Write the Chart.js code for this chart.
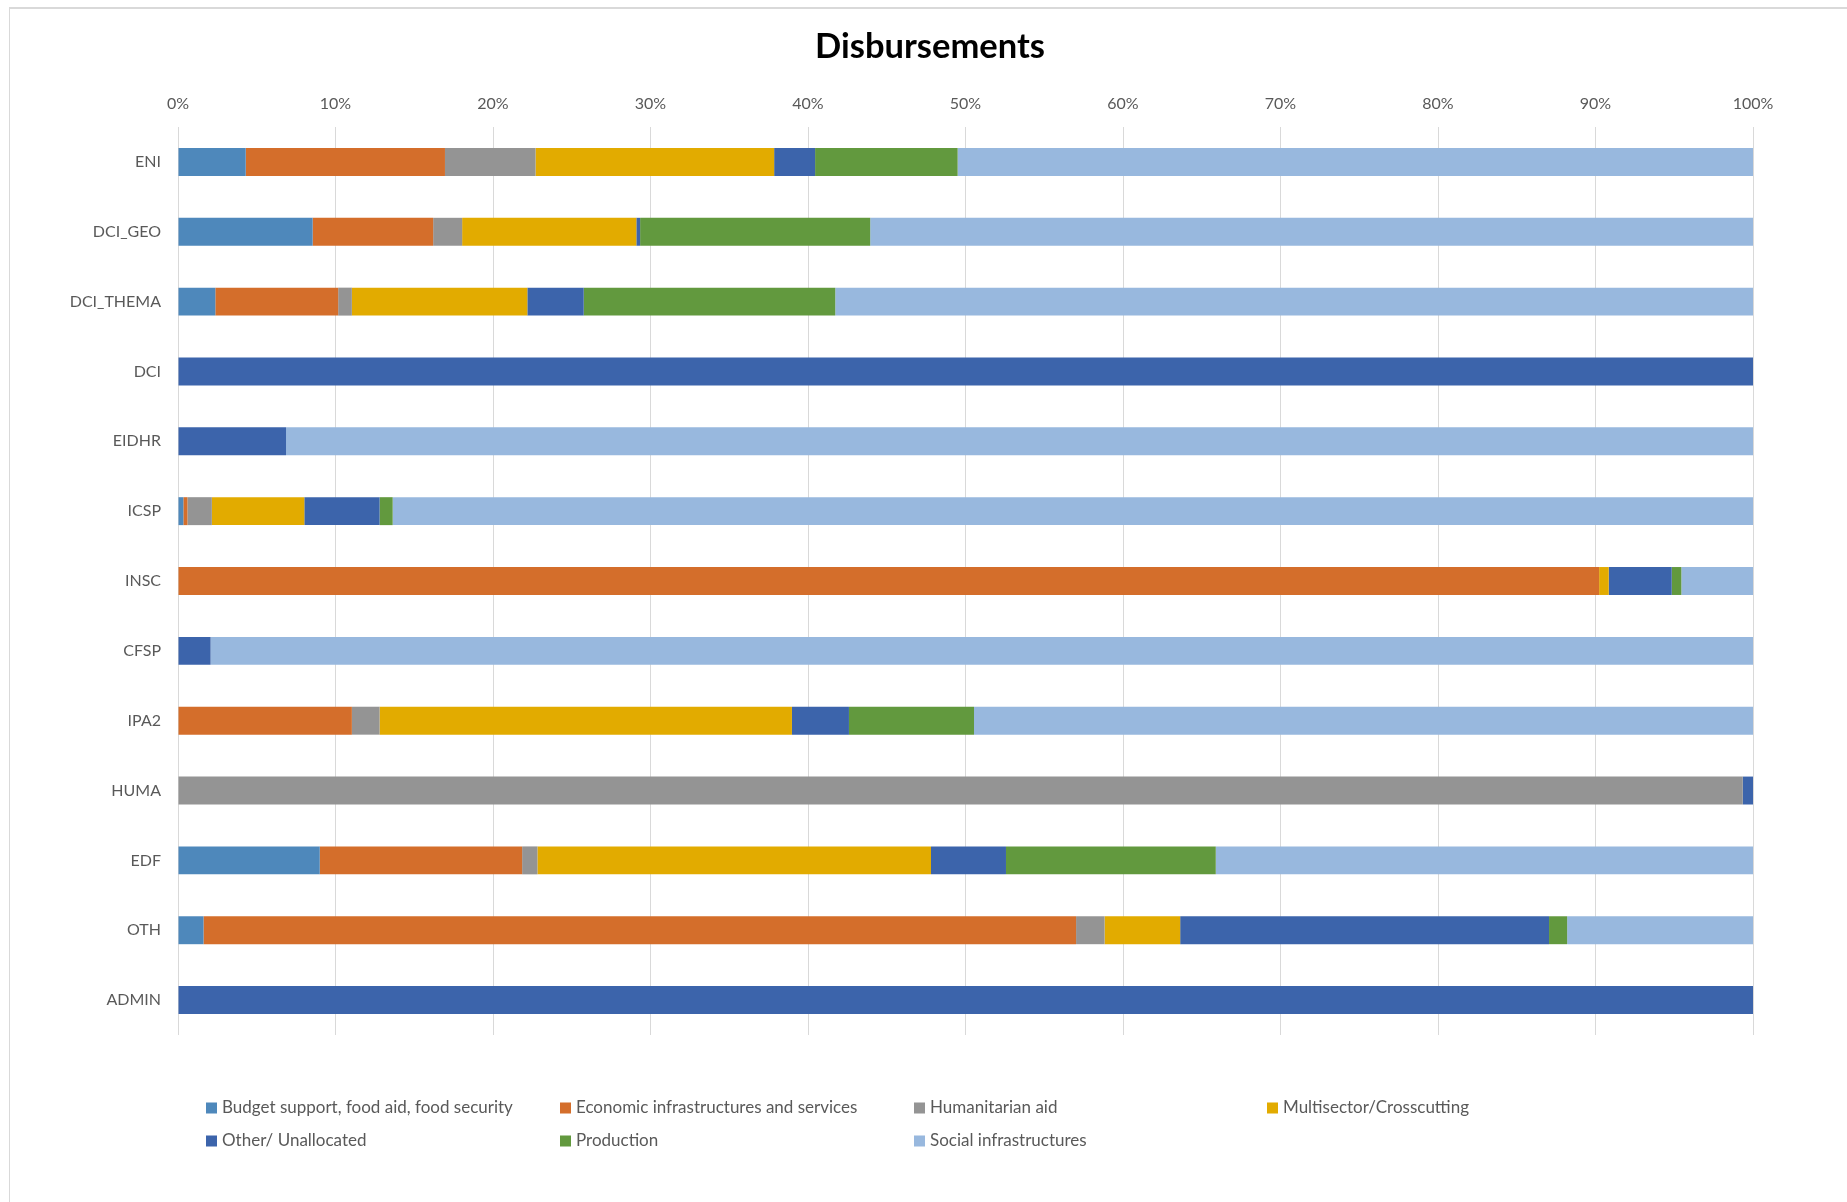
<!DOCTYPE html>
<html>
<head>
<meta charset="utf-8">
<title>Disbursements</title>
<script src="https://cdn.jsdelivr.net/npm/chart.js@4.4.1/dist/chart.umd.min.js"></script>
<style>
  html, body { margin: 0; padding: 0; background: #fff; }
  .wrap { position: relative; width: 1847px; height: 1202px; overflow: hidden; }
  .frame { position: absolute; left: 9px; top: 7px; width: 1900px; height: 1300px;
    border-left: 1px solid #d9d9d9; border-top: 2px solid #d9d9d9; pointer-events: none; }
  canvas { position: absolute; left: 0; top: 0; }
</style>
</head>
<body>
<div class="wrap">
  <canvas id="chart" width="1847" height="1202"></canvas>
  <div class="frame"></div>
</div>
<script>
const categories = ['ENI', 'DCI_GEO', 'DCI_THEMA', 'DCI', 'EIDHR', 'ICSP', 'INSC', 'CFSP', 'IPA2', 'HUMA', 'EDF', 'OTH', 'ADMIN'];

const budgetSupport = [4.3, 8.55, 2.37, 0, 0, 0.34, 0, 0, 0, 0, 9.0, 1.62, 0];
const economicInfra = [12.65, 7.65, 7.8, 0, 0, 0.26, 90.23, 0, 11.04, 0, 12.85, 55.4, 0];
const humanitarianAid = [5.75, 1.84, 0.87, 0, 0, 1.55, 0, 0, 1.76, 99.35, 0.97, 1.81, 0];
const multisector = [15.15, 11.06, 11.14, 0, 0, 5.87, 0.61, 0, 26.18, 0, 24.99, 4.8, 0];
const otherUnallocated = [2.6, 0.24, 3.58, 100, 6.86, 4.78, 4.0, 2.07, 3.62, 0.65, 4.76, 23.42, 100];
const production = [9.05, 14.61, 15.97, 0, 0, 0.83, 0.61, 0, 7.94, 0, 13.32, 1.15, 0];
const socialInfra = [50.5, 56.05, 58.27, 0, 93.14, 86.37, 4.55, 97.93, 49.46, 0, 34.11, 11.8, 0];

const seriesNames = ['Budget support, food aid, food security', 'Economic infrastructures and services', 'Humanitarian aid',
  'Multisector/Crosscutting', 'Other/ Unallocated', 'Production', 'Social infrastructures'];
const seriesValues = [budgetSupport, economicInfra, humanitarianAid, multisector, otherUnallocated, production, socialInfra];
const seriesColors = ['#4e88bb', '#d46e2b', '#949494', '#e2ab00', '#3c64ab', '#62993e', '#98b8de'];

const textColor = '#595959';
const font = 'Lato';

// legend in fixed columns like the Excel original
const gridLegend = {
  id: 'gridLegend',
  afterLayout(chart) {
    // let the long category labels draw left of the axis box without being clipped
    chart.scales.y.left = 0;
  },
  afterDraw(chart) {
    const ctx = chart.ctx;
    const cols = [206, 560, 914, 1267];
    const rows = [1108, 1141];
    ctx.save();
    ctx.font = '17px ' + font;
    ctx.textBaseline = 'middle';
    ctx.textAlign = 'left';
    chart.data.datasets.forEach((ds, i) => {
      const x = cols[i % 4];
      const y = rows[Math.floor(i / 4)];
      ctx.fillStyle = ds.backgroundColor;
      ctx.fillRect(x, y - 5.5, 11, 11);
      ctx.fillStyle = textColor;
      ctx.fillText(ds.label, x + 16, y);
    });
    ctx.restore();
  }
};

new Chart(document.getElementById('chart'), {
  type: 'bar',
  data: {
    labels: categories,
    datasets: seriesNames.map((name, i) => ({
      label: name,
      data: seriesValues[i],
      backgroundColor: seriesColors[i],
      borderWidth: 0,
      barPercentage: 0.4,
      categoryPercentage: 1
    }))
  },
  options: {
    indexAxis: 'y',
    responsive: false,
    animation: false,
    layout: {
      padding: { left: 107, right: 94, top: 8, bottom: 167 }
    },
    plugins: {
      legend: { display: false },
      tooltip: { enabled: false },
      title: {
        display: true,
        text: 'Disbursements',
        color: '#000',
        font: { family: font, size: 34.5, weight: 'bold' },
        padding: { top: 18.3, bottom: 26.3 }
      }
    },
    scales: {
      x: {
        position: 'top',
        stacked: true,
        min: 0,
        max: 100,
        afterFit: (scale) => { scale.height = 33; },
        ticks: {
          stepSize: 10,
          padding: 14,
          color: textColor,
          font: { family: font, size: 16 },
          callback: (v) => v + '%'
        },
        grid: { color: '#d9d9d9', lineWidth: 1, drawTicks: false },
        border: { display: false }
      },
      y: {
        stacked: true,
        afterFit: (scale) => {
          scale.width = 71;
          scale.paddingTop = 0;
          scale.paddingBottom = 0;
        },
        ticks: {
          padding: 17,
          color: textColor,
          font: { family: font, size: 16 }
        },
        grid: { display: false, drawTicks: false },
        border: { display: false }
      }
    }
  },
  plugins: [gridLegend]
});
</script>
</body>
</html>
